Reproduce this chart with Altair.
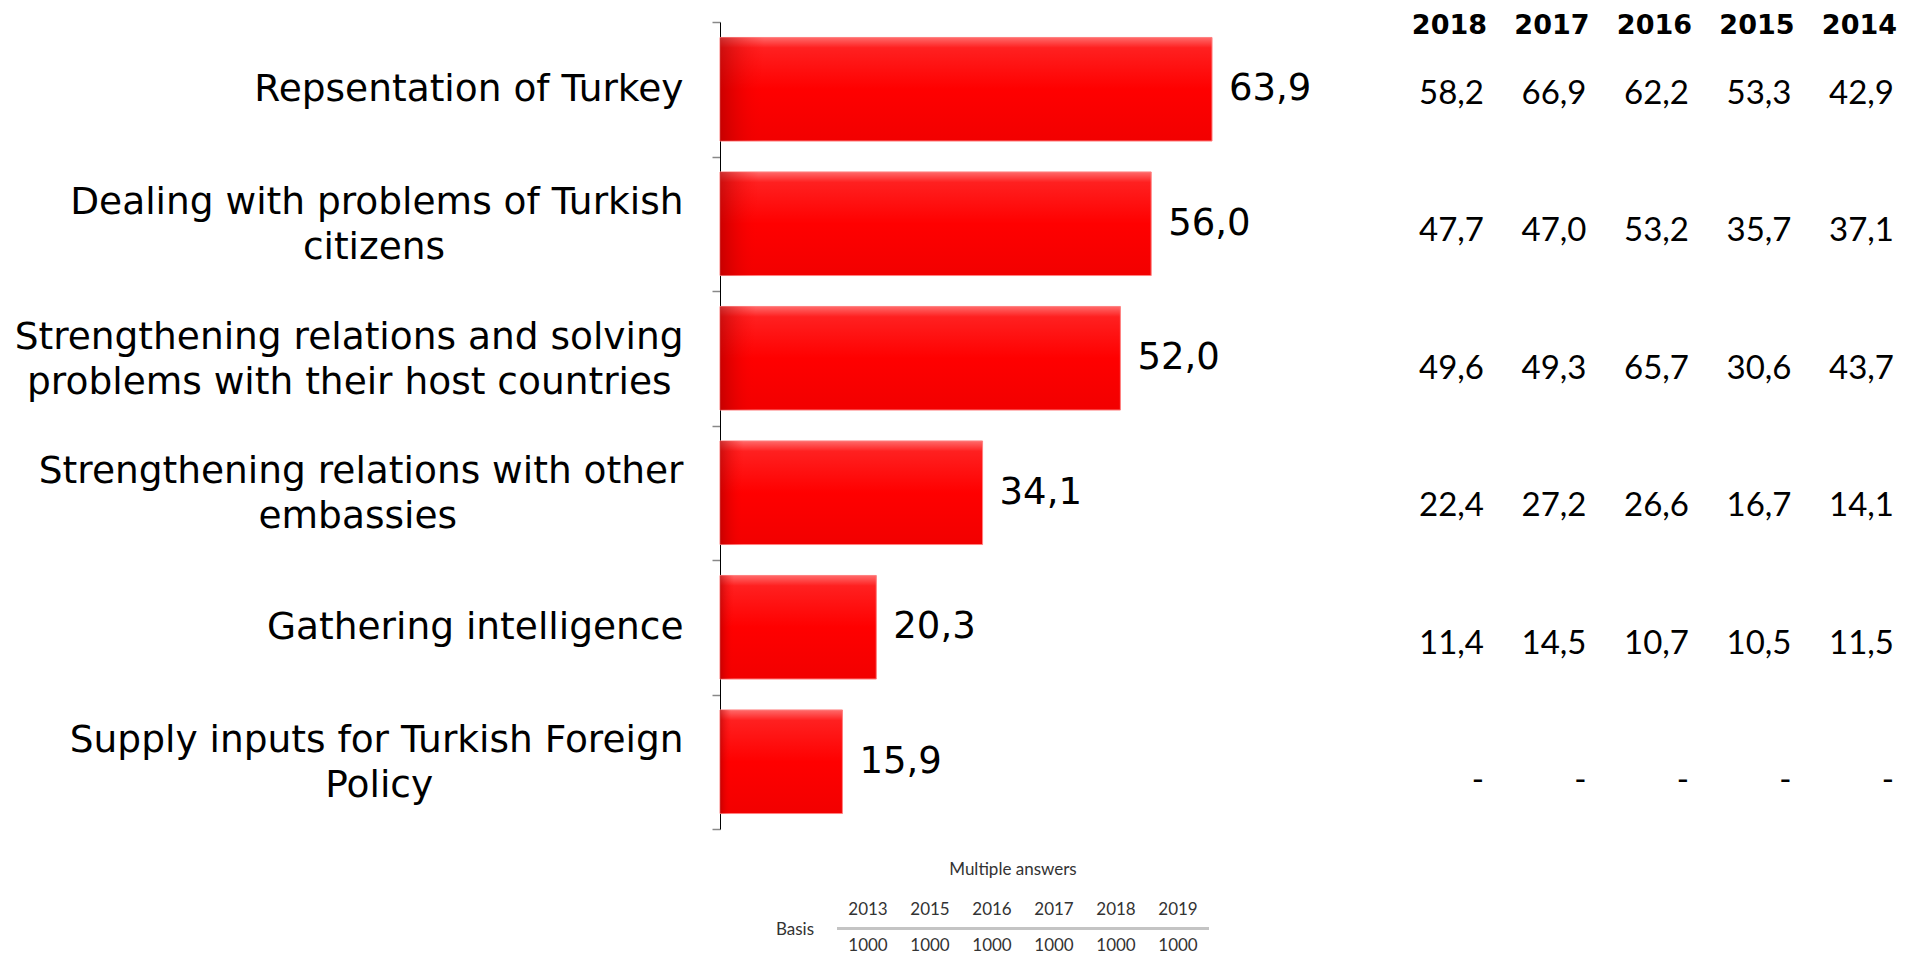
import altair as alt
import pandas as pd

# ---------------- data ----------------
categories = [
    "Repsentation of Turkey",
    "Dealing with problems of Turkish|citizens",
    "Strengthening relations and solving|problems with their host countries",
    "Strengthening relations with other|embassies",
    "Gathering intelligence",
    "Supply inputs for Turkish Foreign|Policy",
]
values_2019 = [63.9, 56.0, 52.0, 34.1, 20.3, 15.9]

table_years = ["2018", "2017", "2016", "2015", "2014"]
v2018 = [58.2, 47.7, 49.6, 22.4, 11.4, None]
v2017 = [66.9, 47.0, 49.3, 27.2, 14.5, None]
v2016 = [62.2, 53.2, 65.7, 26.6, 10.7, None]
v2015 = [53.3, 35.7, 30.6, 16.7, 10.5, None]
v2014 = [42.9, 37.1, 43.7, 14.1, 11.5, None]

basis_years = ["2013", "2015", "2016", "2017", "2018", "2019"]
basis_values = ["1000", "1000", "1000", "1000", "1000", "1000"]
note_text = ["Multiple answers"]
basis_label = ["Basis"]

# ---------------- label layout helper (centre wrapped lines) ----------------
W = {" ": 651, "a": 1255, "b": 1300, "c": 1126, "d": 1300, "e": 1260, "f": 721,
     "g": 1300, "h": 1298, "i": 569, "k": 1186, "l": 569, "m": 1995, "n": 1298,
     "o": 1253, "p": 1300, "r": 842, "s": 1067, "t": 803, "u": 1298, "v": 1212,
     "w": 1675, "y": 1212, "z": 1075, "D": 1577, "S": 1300, "T": 1251, "P": 1235,
     "F": 1178, "G": 1587, "R": 1423, "C": 1430}


def tw(s):
    return sum(W.get(c, 1200) for c in s)


def center_lines(label):
    lines = label.split("|")
    if len(lines) == 1:
        return label
    w = max(tw(l) for l in lines)
    out = []
    for l in lines:
        n = round((w - tw(l)) / 2 / 651)
        out.append(l + ("\u00a0" * n + "\u200b" if n > 0 else ""))
    return "|".join(out)


cat_labels = [center_lines(c) for c in categories]

bars_df = pd.DataFrame({"cat": cat_labels, "value": values_2019})

rows = []
for year, vals in zip(table_years, [v2018, v2017, v2016, v2015, v2014]):
    for c, v in zip(cat_labels, vals):
        rows.append({"cat": c, "year": year, "value": v})
table_df = pd.DataFrame(rows)
table_df["txt"] = table_df["value"].apply(
    lambda v: "-" if pd.isna(v) else f"{v:.1f}".replace(".", ","))
header_df = pd.DataFrame({"year": table_years})
basis_df = pd.DataFrame({"year": basis_years, "n": basis_values})

# ---------------- scales ----------------
PLOT_W, PLOT_H = 770, 807
x_bar = alt.Scale(domain=[0, 100], nice=False, zero=True)
y_band = alt.Scale(type="band", domain=cat_labels, paddingInner=0.23, paddingOuter=0.115)
y_axis_scale = alt.Scale(type="band", domain=cat_labels, paddingInner=0, paddingOuter=0)
x_tab = alt.Scale(type="point", domain=table_years, range=[764, 1174], padding=0)
y_tab = alt.Scale(type="point", domain=cat_labels, range=[72, 759], padding=0)
x_basis = alt.Scale(type="band", domain=basis_years, range=[117, 489], paddingInner=0, paddingOuter=0)

bar_fill = alt.Gradient(
    gradient="linear",
    stops=[alt.GradientStop(color="#ff6a6a", offset=0),
           alt.GradientStop(color="#ff2020", offset=0.1),
           alt.GradientStop(color="#ff0000", offset=0.5),
           alt.GradientStop(color="#f20000", offset=1)],
    x1=0, x2=0, y1=0, y2=1)
left_shade = alt.Gradient(
    gradient="linear",
    stops=[alt.GradientStop(color="rgba(160,0,0,0.55)", offset=0),
           alt.GradientStop(color="rgba(255,0,0,0)", offset=0.09),
           alt.GradientStop(color="rgba(255,0,0,0)", offset=1)],
    x1=0, x2=1, y1=0, y2=0)

multi_test = "indexof(datum.label, '|') >= 0"

# invisible layer carrying the category axis (ticks on step boundaries)
axis_layer = alt.Chart(bars_df).mark_point(opacity=0).encode(
    x=alt.X("value:Q", scale=x_bar, axis=None),
    y=alt.Y("cat:N", scale=y_axis_scale, sort=None, title=None,
            axis=alt.Axis(labelExpr="split(datum.label, '|')",
                          labelFont="DejaVu Sans", labelFontSize=37.5, labelColor="black",
                          labelLineHeight=45, labelLimit=1500, labelPadding=29,
                          labelAlign="right", labelBaseline="middle",
                          labelOffset={"condition": {"test": multi_test, "value": -21},
                                       "value": 0},
                          tickBand="extent", tickSize=8, tickColor="#888888", tickWidth=1.5,
                          domainColor="black", domainWidth=1, grid=False)),
)
bars = alt.Chart(bars_df).mark_bar(color=bar_fill, stroke="#ff8080", strokeWidth=1).encode(
    x=alt.X("value:Q", scale=x_bar, axis=None),
    y=alt.Y("cat:N", scale=y_band, sort=None, axis=None),
)
shade = alt.Chart(bars_df).mark_bar(color=left_shade).encode(
    x=alt.X("value:Q", scale=x_bar, axis=None),
    y=alt.Y("cat:N", scale=y_band, sort=None, axis=None),
)
labels = alt.Chart(bars_df).transform_calculate(
    txt="replace(format(datum.value, '.1f'), '.', ',')"
).mark_text(align="left", baseline="middle", dx=17, font="DejaVu Sans", fontSize=37,
            color="black").encode(
    x=alt.X("value:Q", scale=x_bar, axis=None),
    y=alt.Y("cat:N", scale=y_band, sort=None, axis=None),
    text="txt:N",
)

header = alt.Chart(header_df).mark_text(
    align="right", baseline="middle", font="DejaVu Sans", fontWeight="bold", fontSize=27,
    dx=3, color="black").encode(
    x=alt.X("year:N", scale=x_tab, axis=None),
    y=alt.value(4),
    text="year:N",
)
table = alt.Chart(table_df).mark_text(
    align="right", baseline="middle", font="Lato", fontSize=33, color="black").encode(
    x=alt.X("year:N", scale=x_tab, axis=None),
    y=alt.Y("cat:N", scale=y_tab, axis=None),
    text="txt:N",
)

small = dict(align="center", baseline="middle", font="Lato", fontSize=17, color="#333333")
note = alt.Chart(pd.DataFrame({"t": note_text})).mark_text(**small).encode(
    x=alt.value(293), y=alt.value(848), text="t:N")
basis_txt = alt.Chart(pd.DataFrame({"t": basis_label})).mark_text(**small).encode(
    x=alt.value(75), y=alt.value(908), text="t:N")
basis_years_txt = alt.Chart(basis_df).mark_text(**small).encode(
    x=alt.X("year:N", scale=x_basis, axis=None), y=alt.value(888), text="year:N")
basis_vals_txt = alt.Chart(basis_df).mark_text(**small).encode(
    x=alt.X("year:N", scale=x_basis, axis=None), y=alt.value(924), text="n:N")
basis_line = alt.Chart(basis_df).mark_bar(color="#c4c4c4").encode(
    x=alt.X("year:N", scale=x_basis, axis=None), y=alt.value(905), y2=alt.value(908))

chart = alt.layer(
    axis_layer, bars, shade, labels, header, table,
    note, basis_txt, basis_years_txt, basis_vals_txt, basis_line
).resolve_scale(x="independent", y="independent").properties(
    width=PLOT_W, height=PLOT_H,
    background="white",
    autosize=alt.AutoSizeParams(type="none"),
    padding={"left": 712, "top": 14, "right": 415, "bottom": 128},
).configure_view(stroke=None, strokeWidth=0)

chart.save("out.html", embed_options={"renderer": "svg", "actions": False})
